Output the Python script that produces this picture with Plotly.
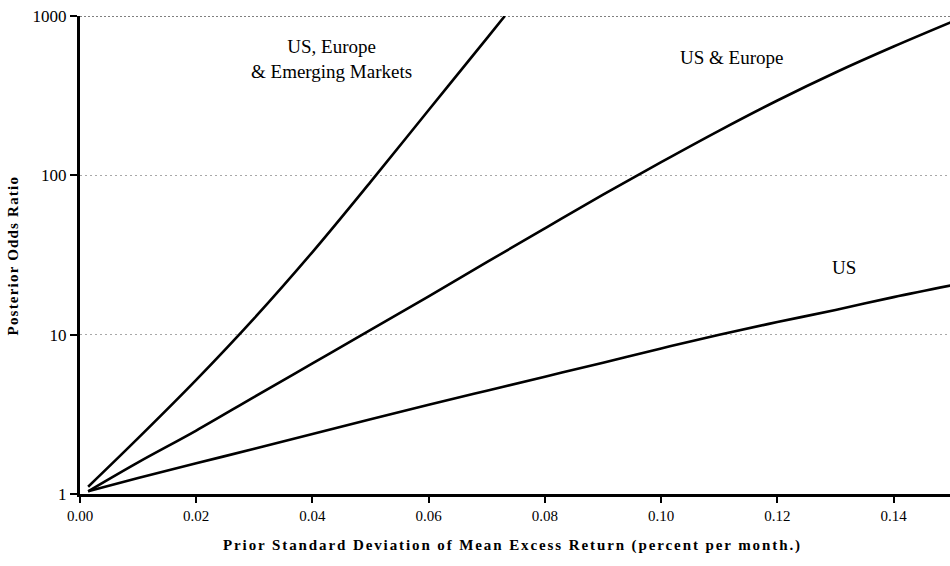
import plotly.graph_objects as go

# Prior standard deviation of mean excess return (percent per month)
prior_sd = [0.0014, 0.01, 0.02, 0.03, 0.04, 0.05, 0.06, 0.07, 0.08,
            0.09, 0.10, 0.11, 0.12, 0.13, 0.14, 0.15]
prior_sd_em = [0.0014, 0.01, 0.02, 0.03, 0.04, 0.05, 0.06, 0.07, 0.0731]

# Posterior odds ratios
odds_us = [1.04, 1.26, 1.56, 1.92, 2.38, 2.95, 3.63, 4.45, 5.45,
           6.67, 8.2, 10.0, 12.0, 14.3, 17.2, 20.4]
odds_us_europe = [1.04, 1.58, 2.5, 4.07, 6.6, 10.7, 17.4, 28.5, 46.5,
                  75.7, 121, 191, 295, 442, 643, 918]
odds_us_europe_em = [1.11, 2.24, 5.2, 12.7, 33, 91, 257, 724, 1000]

x_ticks = [0.00, 0.02, 0.04, 0.06, 0.08, 0.10, 0.12, 0.14]
x_tick_text = ["0.00", "0.02", "0.04", "0.06", "0.08", "0.10", "0.12", "0.14"]
y_ticks = [1, 10, 100, 1000]
y_tick_text = ["1", "10", "100", "1000"]

SERIF = "Liberation Serif"

fig = go.Figure()
line_style = dict(color="black", width=2.6, shape="spline", smoothing=1.0)
fig.add_trace(go.Scatter(x=prior_sd, y=odds_us, mode="lines", line=line_style,
                         name="US", showlegend=False))
fig.add_trace(go.Scatter(x=prior_sd, y=odds_us_europe, mode="lines", line=line_style,
                         name="US & Europe", showlegend=False))
fig.add_trace(go.Scatter(x=prior_sd_em, y=odds_us_europe_em, mode="lines", line=line_style,
                         name="US, Europe & Emerging Markets", showlegend=False))

# darker dotted rule along the 1000 level
fig.add_shape(type="line", xref="paper", yref="y", x0=0, x1=1, y0=1000, y1=1000,
              line=dict(color="#555", width=1.3, dash="2px,2px"), layer="below")

label_font = dict(family=SERIF, size=19, color="black")
fig.add_annotation(x=0.0433, y=2.733, xref="x", yref="y",
                   text="US, Europe<br>& Emerging Markets", showarrow=False,
                   font=label_font, align="center")
fig.add_annotation(x=0.1121, y=2.74, xref="x", yref="y", text="US & Europe",
                   showarrow=False, font=label_font)
fig.add_annotation(x=0.1314, y=1.423, xref="x", yref="y", text="US",
                   showarrow=False, font=label_font)

# axis titles
fig.add_annotation(
    x=0.4966, y=-0.107, xref="paper", yref="paper", xanchor="center", yanchor="middle",
    text='<b><span style="letter-spacing:1.9px">Prior Standard Deviation of Mean Excess '
         'Return (percent per month.)</span></b>',
    showarrow=False, font=dict(family=SERIF, size=15, color="black"))
fig.add_annotation(
    x=-0.0765, y=0.5, xref="paper", yref="paper", xanchor="center", yanchor="middle",
    text='<b><span style="letter-spacing:1.2px">Posterior Odds Ratio</span></b>',
    textangle=-90, showarrow=False, font=dict(family=SERIF, size=15, color="black"))

fig.update_xaxes(
    range=[0, 0.1497], tickvals=x_ticks, ticktext=x_tick_text,
    showgrid=False, zeroline=False,
    showline=True, linecolor="black", linewidth=2.6,
    ticks="outside", ticklen=6, tickwidth=2, tickcolor="black",
    tickfont=dict(family=SERIF, size=15, color="black"),
)
fig.update_yaxes(
    type="log", range=[0, 3], tickvals=y_ticks, ticktext=y_tick_text,
    showgrid=True, gridcolor="#a8a8a8", gridwidth=1, griddash="2px,3px",
    zeroline=False,
    showline=True, linecolor="black", linewidth=3,
    ticks="outside", ticklen=7, tickwidth=2, tickcolor="black",
    tickfont=dict(family=SERIF, size=17, color="black"),
)

fig.update_layout(
    width=950, height=566,
    margin=dict(l=80, r=0, t=16, b=72),
    paper_bgcolor="white", plot_bgcolor="white",
    font=dict(family=SERIF),
)

fig.write_html("out.html")
